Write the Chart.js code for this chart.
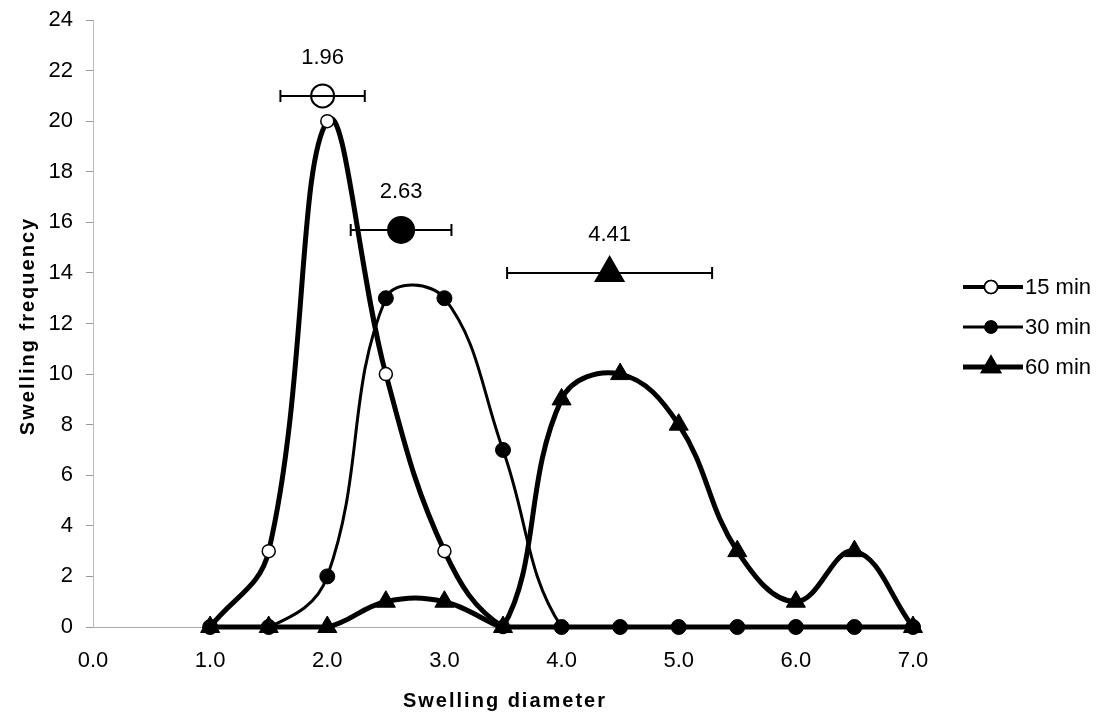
<!DOCTYPE html>
<html>
<head>
<meta charset="utf-8">
<script src="https://cdn.jsdelivr.net/npm/chart.js@4"></script>
<style>
  html, body { margin: 0; padding: 0; background: #fff; }
  #wrap { width: 1111px; height: 726px; }
</style>
</head>
<body>
<div id="wrap"><canvas id="chart" width="1111" height="726"></canvas></div>
<script>
const diameters = [1.0, 1.5, 2.0, 2.5, 3.0, 3.5, 4.0, 4.5, 5.0, 5.5, 6.0, 6.5, 7.0];
const freq15 = [0, 3, 20, 10, 3, 0, 0, 0, 0, 0, 0, 0, 0];
const freq30 = [0, 0, 2, 13, 13, 7, 0, 0, 0, 0, 0, 0, 0];
const freq60 = [0, 0, 0, 1, 1, 0, 9, 10, 8, 3, 1, 3, 0];

const meanLabels = ['1.96', '2.63', '4.41'];
const meanX = [1.96, 2.63, 4.41];
const meanY = [21, 15.7, 14];
const meanErr = [0.36, 0.43, 0.875];

const seriesNames = ['15 min', '30 min', '60 min'];
const xTitle = 'Swelling diameter';
const yTitle = 'Swelling frequency';

const FONT = '"Liberation Sans", Arial, sans-serif';

const toPoints = (ys) => diameters.map((x, i) => ({ x, y: ys[i] }));

// error bars, mean labels, axis titles and the legend
const extras = {
  id: 'extras',
  afterDatasetsDraw(chart) {
    const { ctx, scales } = chart;
    const xs = scales.x, ys = scales.y;
    ctx.save();
    ctx.strokeStyle = '#000';
    ctx.lineWidth = 2;
    meanX.forEach((mx, i) => {
      const py = ys.getPixelForValue(meanY[i]);
      const x1 = xs.getPixelForValue(mx - meanErr[i]);
      const x2 = xs.getPixelForValue(mx + meanErr[i]);
      ctx.beginPath();
      ctx.moveTo(x1, py); ctx.lineTo(x2, py);
      ctx.moveTo(x1, py - 6); ctx.lineTo(x1, py + 6);
      ctx.moveTo(x2, py - 6); ctx.lineTo(x2, py + 6);
      ctx.stroke();
      ctx.fillStyle = '#000';
      ctx.font = '22px ' + FONT;
      ctx.textAlign = 'center';
      ctx.textBaseline = 'middle';
      ctx.fillText(meanLabels[i], xs.getPixelForValue(mx), py - 38);
    });
    ctx.restore();
  },
  afterDraw(chart) {
    const { ctx, chartArea } = chart;
    ctx.save();
    // axis titles, spaced out like the original
    ctx.fillStyle = '#000';
    ctx.font = 'bold 20px ' + FONT;
    ctx.letterSpacing = '2px';
    ctx.textAlign = 'center';
    ctx.textBaseline = 'middle';
    ctx.fillText(xTitle, (chartArea.left + chartArea.right) / 2 + 2, 701);
    ctx.translate(28, 326);
    ctx.rotate(-Math.PI / 2);
    ctx.fillText(yTitle, 0, 0);
    ctx.setTransform(1, 0, 0, 1, 0, 0);
    ctx.letterSpacing = '0px';

    const rows = [
      { y: 287, lw: 4, style: 'circle', r: 6.5, fill: '#fff' },
      { y: 327, lw: 3, style: 'circle', r: 6, fill: '#000' },
      { y: 367, lw: 5, style: 'triangle', r: 11, fill: '#000' },
    ];
    rows.forEach((row, i) => {
      ctx.strokeStyle = '#000';
      ctx.lineWidth = row.lw;
      ctx.beginPath();
      ctx.moveTo(963, row.y); ctx.lineTo(1023, row.y);
      ctx.stroke();
      ctx.fillStyle = row.fill;
      ctx.lineWidth = 1.5;
      Chart.helpers.drawPoint(ctx, { pointStyle: row.style, radius: row.r, borderWidth: 1.5 }, 991, row.y);
      ctx.fill();
      ctx.stroke();
      ctx.fillStyle = '#000';
      ctx.font = '22px ' + FONT;
      ctx.textAlign = 'left';
      ctx.textBaseline = 'middle';
      ctx.fillText(seriesNames[i], 1025, row.y + 1);
    });
    ctx.restore();
  }
};

new Chart(document.getElementById('chart'), {
  type: 'scatter',
  data: {
    datasets: [
      {
        label: 'means',
        data: meanX.map((x, i) => ({ x, y: meanY[i] })),
        showLine: false,
        pointStyle: ['circle', 'circle', 'triangle'],
        pointRadius: [11.5, 13, 16],
        pointBackgroundColor: ['#fff', '#000', '#000'],
        pointBorderColor: '#000',
        pointBorderWidth: 2,
        order: 0,
        clip: false,
      },
      {
        label: seriesNames[2],
        data: toPoints(freq60),
        showLine: true,
        tension: 0.4,
        borderColor: '#000',
        borderWidth: 5,
        pointStyle: 'triangle',
        pointRadius: 11,
        pointBackgroundColor: '#000',
        pointBorderColor: '#000',
        pointBorderWidth: 1,
        order: 1,
        clip: false,
      },
      {
        label: seriesNames[1],
        data: toPoints(freq30),
        showLine: true,
        tension: 0.4,
        borderColor: '#000',
        borderWidth: 3,
        pointStyle: 'circle',
        pointRadius: 7.5,
        pointBackgroundColor: '#000',
        pointBorderColor: '#000',
        pointBorderWidth: 1,
        order: 2,
        clip: false,
      },
      {
        label: seriesNames[0],
        data: toPoints(freq15),
        showLine: true,
        tension: 0.4,
        borderColor: '#000',
        borderWidth: 5,
        pointStyle: 'circle',
        pointRadius: 6.5,
        pointBackgroundColor: '#fff',
        pointBorderColor: '#000',
        pointBorderWidth: 1.5,
        order: 3,
        clip: false,
      },
    ],
  },
  options: {
    responsive: false,
    animation: false,
    layout: { padding: { left: 0, top: 20, right: 198, bottom: 0 } },
    plugins: {
      legend: { display: false },
      tooltip: { enabled: false },
    },
    scales: {
      x: {
        type: 'linear',
        min: 0,
        max: 7,
        afterFit: (axis) => {
          axis.height = 99;
          axis.paddingLeft = 0;
          axis.paddingRight = 0;
        },
        ticks: {
          stepSize: 1,
          color: '#000',
          font: { family: FONT, size: 22 },
          padding: 13,
          callback: (v) => Number(v).toFixed(1),
        },
        grid: { display: false },
        border: { display: true, color: '#aaa', width: 1 },
      },
      y: {
        min: 0,
        max: 24,
        afterFit: (axis) => {
          axis.width = 93;
          axis.paddingTop = 0;
          axis.paddingBottom = 0;
        },
        ticks: {
          stepSize: 2,
          color: '#000',
          font: { family: FONT, size: 22 },
          padding: 13,
        },
        grid: { drawOnChartArea: false, drawTicks: true, tickLength: 7, color: '#999' },
        border: { display: true, color: '#bbb', width: 1, dash: [2, 2] },
      },
    },
  },
  plugins: [extras],
});
</script>
</body>
</html>
